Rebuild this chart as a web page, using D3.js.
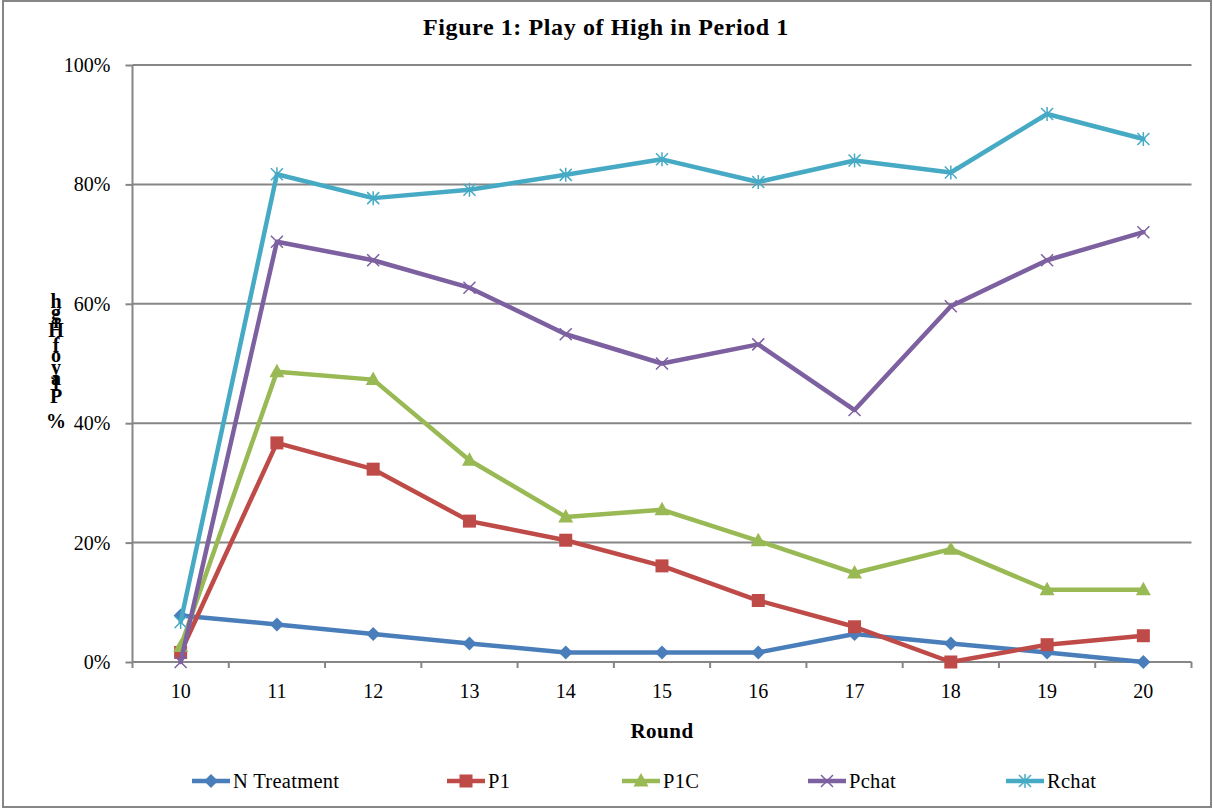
<!DOCTYPE html>
<html>
<head>
<meta charset="utf-8">
<script src="https://cdn.jsdelivr.net/npm/d3@7"></script>
<style>
  html, body { margin: 0; padding: 0; background: #fff; }
  svg { display: block; }
  text { font-family: "Liberation Serif", "Times New Roman", serif; fill: #000; }
</style>
</head>
<body>
<svg id="chart" width="1213" height="809"></svg>
<script>
// ---------- data ----------
const rounds = ["10","11","12","13","14","15","16","17","18","19","20"];
const nTreatment = [7.8, 6.3, 4.7, 3.1, 1.6, 1.6, 1.6, 4.7, 3.1, 1.6, 0.0];
const p1         = [1.6, 36.7, 32.3, 23.6, 20.4, 16.1, 10.3, 5.9, 0.0, 2.9, 4.4];
const p1c        = [2.6, 48.6, 47.3, 33.8, 24.3, 25.5, 20.3, 14.9, 18.9, 12.1, 12.1];
const pchat      = [0.0, 70.4, 67.3, 62.7, 54.9, 50.0, 53.2, 42.2, 59.6, 67.3, 72.0];
const rchat      = [6.7, 81.7, 77.7, 79.1, 81.6, 84.2, 80.4, 84.0, 82.0, 91.8, 87.6];
const seriesNames = ["N Treatment", "P1", "P1C", "Pchat", "Rchat"];
const yTicks = [0, 20, 40, 60, 80, 100];
const titleText = "Figure 1: Play of High in Period 1";
const xTitle = "Round";
const yTitle = "% Play of High";

// ---------- style ----------
const colors = ["#4A7EBB", "#BE4B48", "#98B954", "#7D60A0", "#46AAC5"];
const markers = ["diamond", "square", "triangle", "x", "star"];
const gridColor = "#868686";
const serif = "Liberation Serif";

const svg = d3.select("#chart");
const plotLeft = 132.5, plotRight = 1191.5, plotTop = 65, plotBottom = 662;

// outer border
svg.append("rect").attr("x", 3).attr("y", 1).attr("width", 1208).attr("height", 806)
  .attr("fill", "none").attr("stroke", gridColor).attr("stroke-width", 2);

const x = d3.scaleBand().domain(rounds).range([plotLeft, plotRight]).padding(0);
const y = d3.scaleLinear().domain([0, 100]).range([plotBottom, plotTop]);
const cx = d => x(d) + x.bandwidth() / 2;

// gridlines
svg.append("g").selectAll("line").data(yTicks.filter(t => t > 0)).join("line")
  .attr("x1", plotLeft).attr("x2", plotRight)
  .attr("y1", d => y(d)).attr("y2", d => y(d))
  .attr("stroke", gridColor).attr("stroke-width", 2);

// y axis
const yAxis = svg.append("g").attr("transform", `translate(${plotLeft},0)`)
  .call(d3.axisLeft(y).tickValues(yTicks).tickFormat(d => d + "%").tickSize(7).tickPadding(15));
yAxis.select(".domain").attr("stroke", gridColor).attr("stroke-width", 2)
  .attr("d", `M0,${plotTop}V${plotBottom}`);
yAxis.selectAll(".tick line").attr("stroke", gridColor).attr("stroke-width", 2);
yAxis.selectAll(".tick text").style("font-family", serif).style("font-size", "20px").attr("fill", "#000");

// x axis
const xAxis = svg.append("g").attr("transform", `translate(0,${plotBottom})`)
  .call(d3.axisBottom(x).tickSize(0).tickPadding(22));
xAxis.select(".domain").attr("stroke", gridColor).attr("stroke-width", 2)
  .attr("d", `M${plotLeft},0H${plotRight}`);
xAxis.selectAll(".tick text").style("font-family", serif).style("font-size", "20px").attr("fill", "#000");
const boundaries = rounds.map(r => x(r)).concat([x(rounds[rounds.length - 1]) + x.bandwidth()]);
xAxis.append("g").selectAll("line").data(boundaries).join("line")
  .attr("x1", d => d).attr("x2", d => d).attr("y1", 0).attr("y2", 6)
  .attr("stroke", gridColor).attr("stroke-width", 2);

// marker drawing
function drawMarker(g, type, color, px, py) {
  const s = 6;
  if (type === "diamond") {
    g.append("path").attr("d", `M${px},${py - 7}L${px + 7},${py}L${px},${py + 7}L${px - 7},${py}Z`).attr("fill", color);
  } else if (type === "square") {
    g.append("rect").attr("x", px - 6.5).attr("y", py - 6.5).attr("width", 13).attr("height", 13).attr("fill", color);
  } else if (type === "triangle") {
    g.append("path").attr("d", `M${px},${py - 8}L${px + 7.5},${py + 5.5}L${px - 7.5},${py + 5.5}Z`).attr("fill", color);
  } else if (type === "x") {
    g.append("path").attr("d", `M${px - s},${py - s}L${px + s},${py + s}M${px - s},${py + s}L${px + s},${py - s}`)
      .attr("stroke", color).attr("stroke-width", 1.5).attr("fill", "none");
  } else if (type === "star") {
    g.append("path").attr("d", `M${px - s},${py - s}L${px + s},${py + s}M${px - s},${py + s}L${px + s},${py - s}M${px},${py - 7}L${px},${py + 7}`)
      .attr("stroke", color).attr("stroke-width", 1.5).attr("fill", "none");
  }
}

const allSeries = [nTreatment, p1, p1c, pchat, rchat];
const line = d3.line().x((d, i) => cx(rounds[i])).y(d => y(d));
allSeries.forEach((vals, k) => {
  const g = svg.append("g");
  g.append("path").datum(vals).attr("d", line)
    .attr("fill", "none").attr("stroke", colors[k]).attr("stroke-width", 4.5)
    .attr("stroke-linejoin", "round").attr("stroke-linecap", "round");
  vals.forEach((v, i) => drawMarker(g, markers[k], colors[k], cx(rounds[i]), y(v)));
});

// title
svg.append("text").attr("x", 606).attr("y", 35).attr("text-anchor", "middle")
  .style("font-family", serif).style("font-size", "24px").style("font-weight", "bold")
  .style("letter-spacing", "0.6px").text(titleText);

// x title
svg.append("text").attr("x", 662).attr("y", 738).attr("text-anchor", "middle")
  .style("font-family", serif).style("font-size", "21px").style("font-weight", "bold")
  .style("letter-spacing", "0.5px").text(xTitle);

// y title: stacked characters (bottom to top)
const yLabelBaselines = [428, null, 403, 391, 385, 374, null, 362, 352, null, 337, 328, 319, 308];
const yl = svg.append("text").style("font-family", serif).style("font-size", "20px").style("font-weight", "bold").attr("text-anchor", "middle");
Array.from(yTitle).forEach((ch, i) => {
  if (ch === " " || yLabelBaselines[i] == null) return;
  yl.append("tspan").attr("x", 56).attr("y", yLabelBaselines[i]).text(ch);
});

// legend
const legendX = [211, 466, 641, 827, 1025];
const legendY = 781;
seriesNames.forEach((name, k) => {
  const g = svg.append("g");
  g.append("line").attr("x1", legendX[k] - 19).attr("x2", legendX[k] + 19)
    .attr("y1", legendY).attr("y2", legendY).attr("stroke", colors[k]).attr("stroke-width", 4.5);
  drawMarker(g, markers[k], colors[k], legendX[k], legendY);
  g.append("text").attr("x", legendX[k] + 22).attr("y", legendY + 7)
    .style("font-family", serif).style("font-size", "20.5px").style("letter-spacing", "0.3px").text(name);
});
</script>
</body>
</html>
